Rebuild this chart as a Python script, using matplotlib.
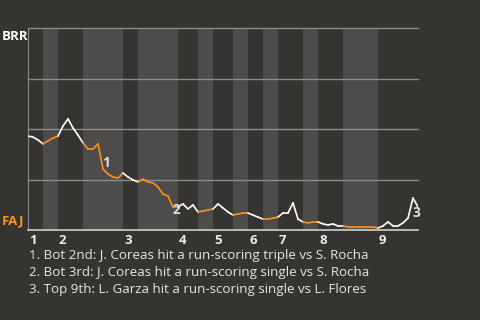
import matplotlib
matplotlib.use("Agg")
import matplotlib.pyplot as plt
from matplotlib.collections import LineCollection
import numpy as np

# BRR win probability (%) after each plate appearance
win_prob = [46.5, 46.0, 44.6, 42.6, 44.1, 45.5, 46.5, 51.5, 55.0, 50.5,
            47.0, 43.1, 40.1, 40.1, 42.6, 30.2, 27.7, 26.2, 25.7, 28.2,
            26.2, 24.8, 23.8, 25.2, 23.8, 23.3, 21.3, 17.8, 16.8, 11.4,
            11.4, 12.9, 10.4, 12.4, 8.9, 9.4, 9.9, 10.4, 12.9, 10.9,
            8.9, 7.4, 7.9, 8.4, 8.4, 7.4, 6.4, 5.4, 5.4, 5.9,
            6.4, 8.4, 8.4, 13.4, 5.4, 4.0, 3.5, 4.0, 4.0, 3.0,
            2.5, 3.0, 2.0, 2.0, 1.5, 1.5, 1.5, 1.5, 1.5, 1.5,
            1.0, 2.0, 4.0, 2.0, 2.0, 3.5, 5.9, 15.8, 11.4]
# plate-appearance index where each half inning starts (top 1st ... top 9th, end)
half_starts = [0, 3, 6, 11, 19, 22, 30, 34, 37, 41, 44, 47, 50, 55, 58, 63, 70, 78]
innings = ["1", "2", "3", "4", "5", "6", "7", "8", "9"]
marks = [(15, "1", 2.2, 4.3), (29, "2", 2.2, -2.2), (77, "3", 2.2, -10.8)]
notes = [
    "1. Bot 2nd: J. Coreas hit a run-scoring triple vs S. Rocha",
    "2. Bot 3rd: J. Coreas hit a run-scoring single vs S. Rocha",
    "3. Top 9th: L. Garza hit a run-scoring single vs L. Flores",
]

bg = "#363431"
band = "#4e4c4a"
orange = "#f7931e"
W, H = 480, 320

fig = plt.figure(figsize=(4.8, 3.2), dpi=100, facecolor=bg)
ax = fig.add_axes([28 / W, 1 - 230 / H, 390 / W, 202 / H])
ax.set_facecolor(bg)
ax.set_xlim(0, half_starts[-1])
ax.set_ylim(0, 100)

# shaded bottom halves
for k in range(1, len(half_starts) - 1, 2):
    ax.axvspan(half_starts[k], half_starts[k + 1], color=band, lw=0, zorder=0)

for yv in [25, 50, 75, 100]:
    ax.axhline(yv, color="#8c8a88", lw=1.0, zorder=1, clip_on=False)

# line colored by which team is batting
x = np.arange(len(win_prob))
segs, cols = [], []
for i in range(len(win_prob) - 1):
    k = np.searchsorted(half_starts, i, side="right") - 1
    segs.append([(x[i], win_prob[i]), (x[i + 1], win_prob[i + 1])])
    cols.append(orange if k % 2 == 1 else "white")
ax.add_collection(LineCollection(segs, colors=cols, linewidths=1.2,
                                 capstyle="round", zorder=3))

for i, lab, dx, dy in marks:
    ax.annotate(lab, xy=(x[i], win_prob[i]), xytext=(dx, dy),
                textcoords="offset points", color="#dddddd", fontsize=10,
                fontweight="bold", ha="center", va="center", zorder=4,
                family="Open Sans")

for s in ["top", "right"]:
    ax.spines[s].set_visible(False)
ax.spines["left"].set_color("#8c8a88")
ax.spines["bottom"].set_color("#cfcfcf")
ax.spines["bottom"].set_linewidth(1.2)
ax.set_xticks([])
ax.set_yticks([])

for k, lab in enumerate(innings):
    ax.text(half_starts[2 * k] + 0.2, -1.8, lab, color="#eeeeee", fontsize=9.5,
            fontweight="bold", ha="left", va="top", family="Open Sans")

fig.text(2 / W, 1 - 36 / H, "BRR", color="white", fontsize=9.5,
         fontweight="bold", va="center", family="Open Sans")
fig.text(2 / W, 1 - 221 / H, "FAJ", color=orange, fontsize=9.5,
         fontweight="bold", va="center", family="Open Sans")

for j, t in enumerate(notes):
    fig.text(29 / W, 1 - (255 + 17.5 * j) / H, t, color="#e6e6e6",
             fontsize=9.6, va="center", family="Open Sans")

fig.savefig("out.png", dpi=100, facecolor=bg)
